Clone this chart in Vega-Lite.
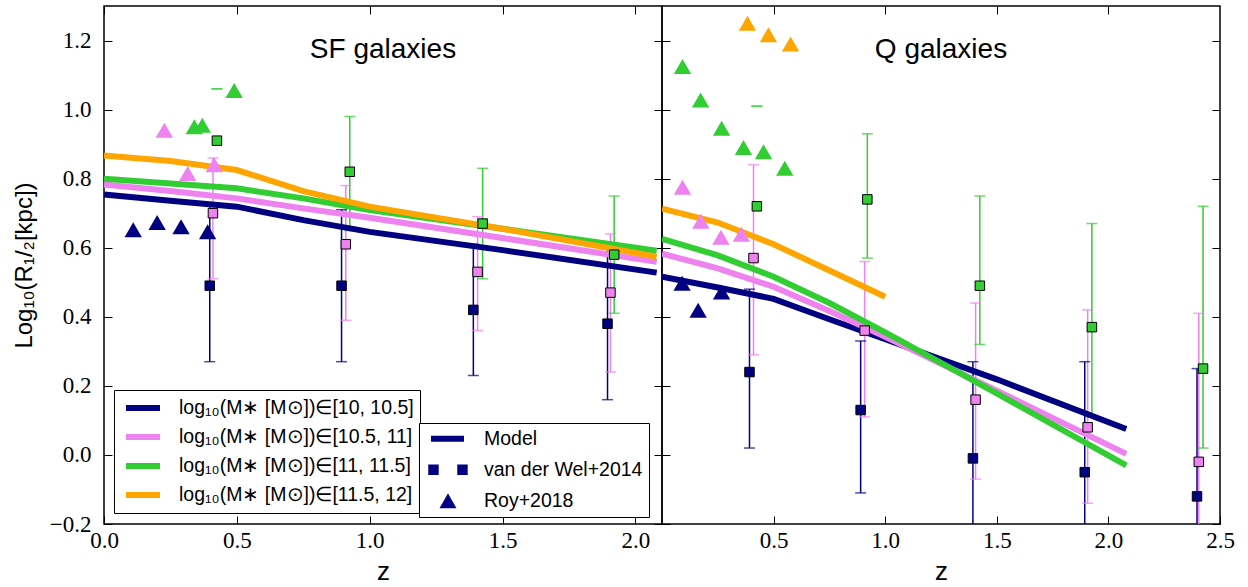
{
  "$schema": "https://vega.github.io/schema/vega-lite/v6.json",
  "padding": {"left": 11, "top": 4, "right": 5, "bottom": 5},
  "background": "white",
  "spacing": 0,
  "bounds": "flush",
  "config": {
    "view": {"stroke": "black", "strokeWidth": 1.5},
    "axis": {"grid": false, "domain": false, "tickSize": -8, "tickColor": "black", "tickWidth": 1, "minExtent": 0, "labelFlush": false, "labelOverlap": false, "labelFont": "Liberation Serif", "labelFontSize": 23, "labelColor": "black", "titleFont": "Liberation Sans", "titleFontWeight": "normal", "titleColor": "black"}
  },
  "datasets": {
    "sf_model": [
      {"z": 0, "r": 0.754, "bin": "10, 10.5"}, {"z": 0.25, "r": 0.736, "bin": "10, 10.5"}, {"z": 0.5, "r": 0.719, "bin": "10, 10.5"}, {"z": 0.75, "r": 0.68, "bin": "10, 10.5"}, {"z": 1.0, "r": 0.646, "bin": "10, 10.5"}, {"z": 1.5, "r": 0.593, "bin": "10, 10.5"}, {"z": 2.08, "r": 0.528, "bin": "10, 10.5"},
      {"z": 0, "r": 0.783, "bin": "10.5, 11"}, {"z": 0.25, "r": 0.764, "bin": "10.5, 11"}, {"z": 0.5, "r": 0.743, "bin": "10.5, 11"}, {"z": 0.75, "r": 0.714, "bin": "10.5, 11"}, {"z": 1.0, "r": 0.687, "bin": "10.5, 11"}, {"z": 1.5, "r": 0.628, "bin": "10.5, 11"}, {"z": 2.08, "r": 0.559, "bin": "10.5, 11"},
      {"z": 0, "r": 0.8, "bin": "11, 11.5"}, {"z": 0.25, "r": 0.786, "bin": "11, 11.5"}, {"z": 0.5, "r": 0.772, "bin": "11, 11.5"}, {"z": 0.75, "r": 0.743, "bin": "11, 11.5"}, {"z": 1.0, "r": 0.709, "bin": "11, 11.5"}, {"z": 1.5, "r": 0.655, "bin": "11, 11.5"}, {"z": 2.08, "r": 0.591, "bin": "11, 11.5"},
      {"z": 0, "r": 0.867, "bin": "11.5, 12"}, {"z": 0.25, "r": 0.851, "bin": "11.5, 12"}, {"z": 0.5, "r": 0.825, "bin": "11.5, 12"}, {"z": 0.75, "r": 0.764, "bin": "11.5, 12"}, {"z": 1.0, "r": 0.719, "bin": "11.5, 12"}, {"z": 1.5, "r": 0.655, "bin": "11.5, 12"}, {"z": 2.08, "r": 0.574, "bin": "11.5, 12"}
    ],
    "q_model": [
      {"z": 0, "r": 0.516, "bin": "10, 10.5"}, {"z": 0.25, "r": 0.485, "bin": "10, 10.5"}, {"z": 0.5, "r": 0.452, "bin": "10, 10.5"}, {"z": 0.75, "r": 0.393, "bin": "10, 10.5"}, {"z": 1.0, "r": 0.335, "bin": "10, 10.5"}, {"z": 1.5, "r": 0.219, "bin": "10, 10.5"}, {"z": 2.08, "r": 0.075, "bin": "10, 10.5"},
      {"z": 0, "r": 0.583, "bin": "10.5, 11"}, {"z": 0.25, "r": 0.54, "bin": "10.5, 11"}, {"z": 0.5, "r": 0.487, "bin": "10.5, 11"}, {"z": 0.75, "r": 0.417, "bin": "10.5, 11"}, {"z": 1.0, "r": 0.342, "bin": "10.5, 11"}, {"z": 1.5, "r": 0.186, "bin": "10.5, 11"}, {"z": 2.08, "r": 0.003, "bin": "10.5, 11"},
      {"z": 0, "r": 0.626, "bin": "11, 11.5"}, {"z": 0.25, "r": 0.578, "bin": "11, 11.5"}, {"z": 0.5, "r": 0.516, "bin": "11, 11.5"}, {"z": 0.75, "r": 0.44, "bin": "11, 11.5"}, {"z": 1.0, "r": 0.355, "bin": "11, 11.5"}, {"z": 1.5, "r": 0.178, "bin": "11, 11.5"}, {"z": 2.08, "r": -0.03, "bin": "11, 11.5"},
      {"z": 0, "r": 0.713, "bin": "11.5, 12"}, {"z": 0.25, "r": 0.673, "bin": "11.5, 12"}, {"z": 0.5, "r": 0.61, "bin": "11.5, 12"}, {"z": 0.75, "r": 0.534, "bin": "11.5, 12"}, {"z": 1.0, "r": 0.458, "bin": "11.5, 12"}
    ],
    "sf_vdw": [
      {"z": 0.398, "r": 0.49, "lo": 0.27, "hi": 0.73, "bin": "10, 10.5"},
      {"z": 0.894, "r": 0.49, "lo": 0.27, "hi": 0.71, "bin": "10, 10.5"},
      {"z": 1.39, "r": 0.42, "lo": 0.23, "hi": 0.61, "bin": "10, 10.5"},
      {"z": 1.895, "r": 0.38, "lo": 0.16, "hi": 0.6, "bin": "10, 10.5"},
      {"z": 0.41, "r": 0.7, "lo": 0.51, "hi": 0.86, "bin": "10.5, 11"},
      {"z": 0.91, "r": 0.61, "lo": 0.39, "hi": 0.78, "bin": "10.5, 11"},
      {"z": 1.406, "r": 0.53, "lo": 0.36, "hi": 0.69, "bin": "10.5, 11"},
      {"z": 1.906, "r": 0.47, "lo": 0.24, "hi": 0.64, "bin": "10.5, 11"},
      {"z": 0.425, "r": 0.91, "lo": 1.06, "hi": 1.06, "bin": "11, 11.5"},
      {"z": 0.925, "r": 0.82, "lo": 0.65, "hi": 0.98, "bin": "11, 11.5"},
      {"z": 1.425, "r": 0.67, "lo": 0.51, "hi": 0.83, "bin": "11, 11.5"},
      {"z": 1.92, "r": 0.58, "lo": 0.41, "hi": 0.75, "bin": "11, 11.5"}
    ],
    "q_vdw": [
      {"z": 0.392, "r": 0.24, "lo": 0.02, "hi": 0.48, "bin": "10, 10.5"},
      {"z": 0.89, "r": 0.13, "lo": -0.11, "hi": 0.33, "bin": "10, 10.5"},
      {"z": 1.393, "r": -0.01, "lo": -0.29, "hi": 0.27, "bin": "10, 10.5"},
      {"z": 1.894, "r": -0.05, "lo": -0.37, "hi": 0.27, "bin": "10, 10.5"},
      {"z": 2.397, "r": -0.12, "lo": -0.49, "hi": 0.25, "bin": "10, 10.5"},
      {"z": 0.41, "r": 0.57, "lo": 0.29, "hi": 0.84, "bin": "10.5, 11"},
      {"z": 0.908, "r": 0.36, "lo": 0.11, "hi": 0.56, "bin": "10.5, 11"},
      {"z": 1.405, "r": 0.16, "lo": -0.07, "hi": 0.44, "bin": "10.5, 11"},
      {"z": 1.907, "r": 0.08, "lo": -0.14, "hi": 0.42, "bin": "10.5, 11"},
      {"z": 2.405, "r": -0.02, "lo": -0.45, "hi": 0.41, "bin": "10.5, 11"},
      {"z": 0.425, "r": 0.72, "lo": 1.01, "hi": 1.01, "bin": "11, 11.5"},
      {"z": 0.92, "r": 0.74, "lo": 0.57, "hi": 0.93, "bin": "11, 11.5"},
      {"z": 1.424, "r": 0.49, "lo": 0.32, "hi": 0.75, "bin": "11, 11.5"},
      {"z": 1.926, "r": 0.37, "lo": 0.11, "hi": 0.67, "bin": "11, 11.5"},
      {"z": 2.424, "r": 0.25, "lo": 0.02, "hi": 0.72, "bin": "11, 11.5"}
    ],
    "sf_roy": [
      {"z": 0.11, "r": 0.652, "bin": "10, 10.5"}, {"z": 0.2, "r": 0.673, "bin": "10, 10.5"}, {"z": 0.29, "r": 0.661, "bin": "10, 10.5"}, {"z": 0.39, "r": 0.646, "bin": "10, 10.5"},
      {"z": 0.227, "r": 0.94, "bin": "10.5, 11"}, {"z": 0.315, "r": 0.815, "bin": "10.5, 11"}, {"z": 0.415, "r": 0.84, "bin": "10.5, 11"},
      {"z": 0.34, "r": 0.95, "bin": "11, 11.5"}, {"z": 0.37, "r": 0.955, "bin": "11, 11.5"}, {"z": 0.49, "r": 1.055, "bin": "11, 11.5"}
    ],
    "q_roy": [
      {"z": 0.09, "r": 0.497, "bin": "10, 10.5"}, {"z": 0.162, "r": 0.419, "bin": "10, 10.5"}, {"z": 0.267, "r": 0.472, "bin": "10, 10.5"},
      {"z": 0.092, "r": 0.775, "bin": "10.5, 11"}, {"z": 0.174, "r": 0.677, "bin": "10.5, 11"}, {"z": 0.264, "r": 0.63, "bin": "10.5, 11"}, {"z": 0.356, "r": 0.639, "bin": "10.5, 11"},
      {"z": 0.092, "r": 1.125, "bin": "11, 11.5"}, {"z": 0.173, "r": 1.028, "bin": "11, 11.5"}, {"z": 0.267, "r": 0.946, "bin": "11, 11.5"}, {"z": 0.365, "r": 0.89, "bin": "11, 11.5"}, {"z": 0.455, "r": 0.878, "bin": "11, 11.5"}, {"z": 0.55, "r": 0.83, "bin": "11, 11.5"},
      {"z": 0.383, "r": 1.25, "bin": "11.5, 12"}, {"z": 0.477, "r": 1.217, "bin": "11.5, 12"}, {"z": 0.576, "r": 1.19, "bin": "11.5, 12"}
    ]
  },
  "resolve": {"scale": {"color": "independent", "shape": "independent", "fill": "independent", "stroke": "independent"}, "legend": {"color": "independent", "shape": "independent"}},
  "hconcat": [
    {
      "width": 558, "height": 518,
      "title": {"text": "SF galaxies", "offset": -80, "baseline": "alphabetic", "fontSize": 28, "font": "Liberation Sans", "fontWeight": "normal", "anchor": "middle", "frame": "group", "color": "black"},
      "resolve": {"axis": {"x": "independent", "y": "independent"}},
      "layer": [
        {
          "data": {"name": "sf_vdw"},
          "mark": {"type": "rule", "strokeWidth": 1.5},
          "encoding": {
            "x": {"field": "z", "type": "quantitative", "scale": {"domain": [0, 2.1], "nice": false, "zero": false}, "axis": {"orient": "bottom", "values": [0, 0.5, 1, 1.5, 2], "format": ".1f", "title": "z", "titleFontSize": 26, "titleY": 55, "titleBaseline": "alphabetic", "labelPadding": 13}},
            "y": {"field": "lo", "type": "quantitative", "scale": {"domain": [-0.2, 1.3], "nice": false, "zero": false}, "axis": {"orient": "left", "values": [-0.2, 0, 0.2, 0.4, 0.6, 0.8, 1, 1.2], "format": ".1f", "title": "Log₁₀(R₁/₂[kpc])", "titleFontSize": 24, "titleX": -80, "titleBaseline": "middle", "labelPadding": 21}},
            "y2": {"field": "hi"},
            "stroke": {"field": "bin", "type": "nominal", "scale": {"domain": ["11.5, 12", "11, 11.5", "10.5, 11", "10, 10.5"], "range": ["#FFA500", "#32CD32", "#EE82EE", "#000080"]}, "legend": null}
          }
        },
        {
          "data": {"name": "sf_vdw"},
          "transform": [{"fold": ["lo", "hi"], "as": ["end", "val"]}],
          "mark": {"type": "tick", "orient": "horizontal", "size": 11, "thickness": 1.5, "opacity": 0.7},
          "encoding": {
            "x": {"field": "z", "type": "quantitative", "axis": null},
            "y": {"field": "val", "type": "quantitative", "axis": null},
            "fill": {"field": "bin", "type": "nominal", "scale": {"domain": ["11.5, 12", "11, 11.5", "10.5, 11", "10, 10.5"], "range": ["#FFA500", "#32CD32", "#EE82EE", "#000080"]}, "legend": null}
          }
        },
        {
          "data": {"name": "sf_model"},
          "mark": {"type": "line", "strokeWidth": 6, "strokeCap": "butt"},
          "encoding": {
            "x": {"field": "z", "type": "quantitative", "axis": {"orient": "top", "values": [0, 0.5, 1, 1.5, 2], "labels": false, "title": null}},
            "y": {"field": "r", "type": "quantitative", "axis": {"orient": "right", "values": [-0.2, 0, 0.2, 0.4, 0.6, 0.8, 1, 1.2], "labels": false, "title": null}},
            "color": {"field": "bin", "type": "nominal", "scale": {"domain": ["10, 10.5", "10.5, 11", "11, 11.5", "11.5, 12"], "range": ["#000080", "#EE82EE", "#32CD32", "#FFA500"]},
              "legend": {"orient": "none", "legendX": 10, "legendY": 384, "title": null, "padding": 6, "strokeColor": "black", "fillColor": "white", "symbolType": "M-0.67,0L3.11,0", "symbolSize": 324, "symbolStrokeWidth": 6, "labelFont": "Liberation Sans", "labelFontSize": 19.5, "labelColor": "black", "labelOffset": 35, "labelLimit": 0, "rowPadding": 5, "labelExpr": "'log₁₀(M∗ [M⊙])∈[' + datum.label + ']'"}}
          }
        },
        {
          "data": {"name": "sf_vdw"},
          "mark": {"type": "point", "shape": "square", "filled": true, "size": 90, "stroke": "black", "strokeWidth": 1, "opacity": 1},
          "encoding": {
            "x": {"field": "z", "type": "quantitative", "axis": null},
            "y": {"field": "r", "type": "quantitative", "axis": null},
            "fill": {"field": "bin", "type": "nominal", "legend": null}
          }
        },
        {
          "data": {"name": "sf_roy"},
          "mark": {"type": "point", "filled": true, "size": 300, "strokeWidth": 0, "opacity": 1},
          "encoding": {
            "x": {"field": "z", "type": "quantitative", "axis": null},
            "y": {"field": "r", "type": "quantitative", "axis": null},
            "fill": {"field": "bin", "type": "nominal", "legend": null},
            "shape": {"datum": "Roy+2018", "type": "nominal",
              "condition": {"test": "true", "value": "triangle-up"},
              "scale": {"domain": ["Model", "van der Wel+2014", "Roy+2018"], "range": ["M-0.42,-0.33h3.67v0.66h-3.67Z", "M-0.72,-0.58h1.16v1.16h-1.16Z M2.5,-0.58h1.16v1.16h-1.16Z", "M0.53,0.83L1.47,-0.83L2.41,0.83Z"]},
              "legend": {"orient": "none", "legendX": 315, "legendY": 417, "title": null, "padding": 6, "strokeColor": "black", "fillColor": "white", "symbolSize": 324, "symbolStrokeWidth": 0, "symbolFillColor": "#000080", "symbolStrokeColor": "#000080", "symbolOpacity": 1, "labelFont": "Liberation Sans", "labelFontSize": 19.5, "labelColor": "black", "labelOffset": 39.5, "labelLimit": 0, "rowPadding": 10}}
          }
        }
      ]
    },
    {
      "width": 558, "height": 518,
      "title": {"text": "Q galaxies", "offset": -80, "baseline": "alphabetic", "fontSize": 28, "font": "Liberation Sans", "fontWeight": "normal", "anchor": "middle", "frame": "group", "color": "black"},
      "resolve": {"axis": {"x": "independent", "y": "independent"}},
      "layer": [
        {
          "data": {"name": "q_vdw"},
          "mark": {"type": "rule", "strokeWidth": 1.5, "clip": true},
          "encoding": {
            "x": {"field": "z", "type": "quantitative", "scale": {"domain": [0, 2.5], "nice": false, "zero": false}, "axis": {"orient": "bottom", "values": [0.5, 1, 1.5, 2, 2.5], "format": ".1f", "title": "z", "titleFontSize": 26, "titleY": 55, "titleBaseline": "alphabetic", "labelPadding": 13}},
            "y": {"field": "lo", "type": "quantitative", "scale": {"domain": [-0.2, 1.3], "nice": false, "zero": false}, "axis": {"orient": "left", "values": [-0.2, 0, 0.2, 0.4, 0.6, 0.8, 1, 1.2], "labels": false, "title": null}},
            "y2": {"field": "hi"},
            "stroke": {"field": "bin", "type": "nominal", "scale": {"domain": ["11.5, 12", "11, 11.5", "10.5, 11", "10, 10.5"], "range": ["#FFA500", "#32CD32", "#EE82EE", "#000080"]}, "legend": null}
          }
        },
        {
          "data": {"name": "q_vdw"},
          "transform": [{"fold": ["lo", "hi"], "as": ["end", "val"]}],
          "mark": {"type": "tick", "orient": "horizontal", "size": 11, "thickness": 1.5, "opacity": 0.7, "clip": true},
          "encoding": {
            "x": {"field": "z", "type": "quantitative", "axis": null},
            "y": {"field": "val", "type": "quantitative", "axis": null},
            "fill": {"field": "bin", "type": "nominal", "scale": {"domain": ["11.5, 12", "11, 11.5", "10.5, 11", "10, 10.5"], "range": ["#FFA500", "#32CD32", "#EE82EE", "#000080"]}, "legend": null}
          }
        },
        {
          "data": {"name": "q_model"},
          "mark": {"type": "line", "strokeWidth": 6, "strokeCap": "butt", "clip": true},
          "encoding": {
            "x": {"field": "z", "type": "quantitative", "axis": {"orient": "top", "values": [0.5, 1, 1.5, 2], "labels": false, "title": null}},
            "y": {"field": "r", "type": "quantitative", "axis": {"orient": "right", "values": [-0.2, 0, 0.2, 0.4, 0.6, 0.8, 1, 1.2], "labels": false, "title": null}},
            "color": {"field": "bin", "type": "nominal", "scale": {"domain": ["10, 10.5", "10.5, 11", "11, 11.5", "11.5, 12"], "range": ["#000080", "#EE82EE", "#32CD32", "#FFA500"]}, "legend": null}
          }
        },
        {
          "data": {"name": "q_vdw"},
          "mark": {"type": "point", "shape": "square", "filled": true, "size": 90, "stroke": "black", "strokeWidth": 1, "opacity": 1, "clip": true},
          "encoding": {
            "x": {"field": "z", "type": "quantitative", "axis": null},
            "y": {"field": "r", "type": "quantitative", "axis": null},
            "fill": {"field": "bin", "type": "nominal", "legend": null}
          }
        },
        {
          "data": {"name": "q_roy"},
          "mark": {"type": "point", "shape": "triangle-up", "filled": true, "size": 300, "strokeWidth": 0, "opacity": 1},
          "encoding": {
            "x": {"field": "z", "type": "quantitative", "axis": null},
            "y": {"field": "r", "type": "quantitative", "axis": null},
            "fill": {"field": "bin", "type": "nominal", "legend": null}
          }
        }
      ]
    }
  ]
}
